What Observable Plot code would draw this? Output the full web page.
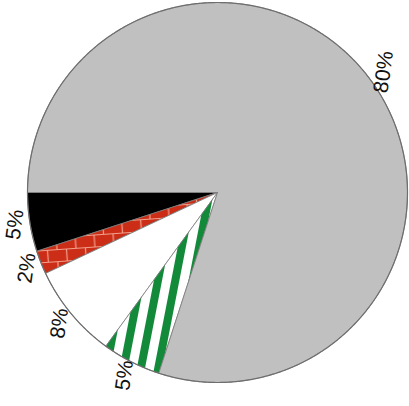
<!DOCTYPE html>
<html><head><meta charset="utf-8">
<script src="https://cdn.jsdelivr.net/npm/d3@7"></script>
<script src="https://cdn.jsdelivr.net/npm/@observablehq/plot@0.6"></script>
<style>html,body{margin:0;padding:0;background:#fff;overflow:hidden}</style>
</head><body><div id="chart"></div>
<script>
// Data
const categories = ["Slice A", "Slice B", "Slice C", "Slice D", "Slice E"];
const shares = [5, 2, 8, 5, 80];
const shareLabels = ["5%", "2%", "8%", "5%", "80%"];
// Styles (kept apart from the data)
const sliceFills = ["#000000", "url(#brick)", "#ffffff", "url(#stripes)", "#c0c0c0"];

const startDeg = 180;
const total = d3.sum(shares);
let acc = startDeg;
const slices = shares.map((v, i) => {
  const a0 = acc, a1 = acc + v / total * 360;
  acc = a1;
  return {i, name: categories[i], a0, a1, mid: (a0 + a1) / 2};
});
const rad = a => a * Math.PI / 180;
function arcPoints(s) {
  const pts = [{x: 0, y: 0}];
  const n = Math.max(2, Math.ceil((s.a1 - s.a0) / 0.5));
  for (let k = 0; k <= n; k++) {
    const a = rad(s.a0 + (s.a1 - s.a0) * k / n);
    pts.push({x: Math.cos(a), y: Math.sin(a)});
  }
  pts.push({x: 0, y: 0});
  return pts;
}
const outline = d3.range(0, 361, 0.5).map(a => ({x: Math.cos(rad(a)), y: Math.sin(rad(a))}));
const labelR = 1.08;

const chart = Plot.plot({
  width: 409, height: 406,
  margin: 0,
  x: {domain: [-1, 1], range: [27, 407], axis: null},
  y: {domain: [-1, 1], range: [382, 2], axis: null},
  style: {background: "#fff", overflow: "visible"},
  marks: [
    ...slices.map(s => Plot.line(arcPoints(s), {
      x: "x", y: "y", curve: "linear",
      fill: sliceFills[s.i], stroke: "#7a7a7a", strokeWidth: 0.8, strokeLinejoin: "round"
    })),
    Plot.line(outline, {x: "x", y: "y", stroke: "#6e6e6e", strokeWidth: 1.2}),
    Plot.text(slices, {
      x: d => labelR * Math.cos(rad(d.mid)),
      y: d => labelR * Math.sin(rad(d.mid)),
      text: d => shareLabels[d.i],
      rotate: -82,
      fontSize: 21,
      fontFamily: "Liberation Sans, Arial, sans-serif",
      fill: "#111"
    })
  ]
});

// Pattern definitions for the hatched slices
const svgSel = d3.select(chart);
const defs = svgSel.insert("defs", ":first-child");
const st = defs.append("pattern").attr("id", "stripes").attr("patternUnits", "userSpaceOnUse")
  .attr("width", 17).attr("height", 17).attr("patternTransform", "rotate(11)");
st.append("rect").attr("width", 17).attr("height", 17).attr("fill", "#ffffff");
st.append("rect").attr("width", 8).attr("height", 17).attr("fill", "#138a3a");
const br = defs.append("pattern").attr("id", "brick").attr("patternUnits", "userSpaceOnUse")
  .attr("width", 19).attr("height", 24).attr("patternTransform", "rotate(-4)");
br.append("rect").attr("width", 19).attr("height", 24).attr("fill", "#cb2d17");
br.append("path").attr("d", "M0,0.5H19M0,12.5H19M1,0.5V12.5M10.5,12.5V24").attr("stroke", "#f2a08c").attr("stroke-width", 1.2).attr("fill", "none");

document.getElementById("chart").appendChild(chart);
</script>
</body></html>
